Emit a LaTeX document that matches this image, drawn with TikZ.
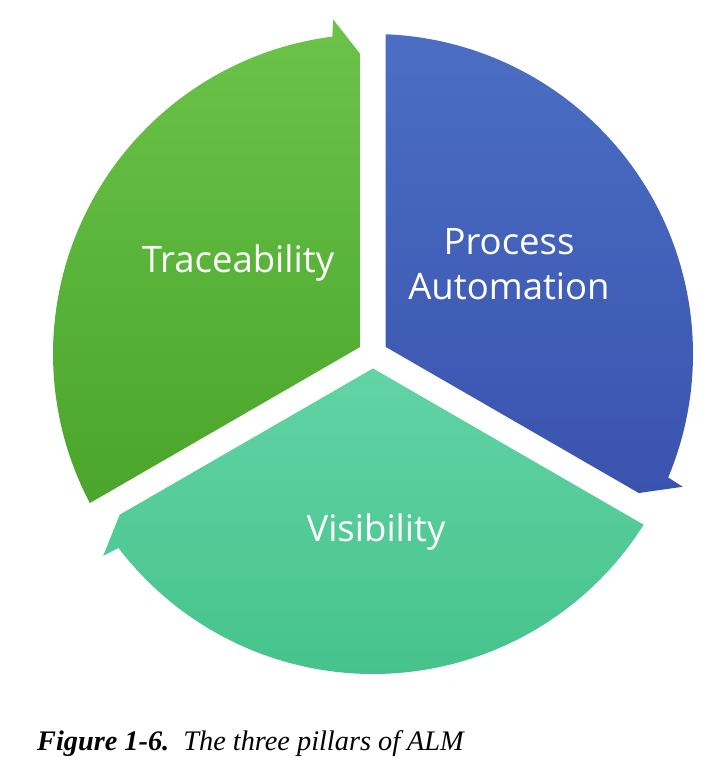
\documentclass[tikz,border=0pt]{standalone}
\usepackage{fontspec}
\setmainfont{Liberation Serif}
\newfontfamily\labelfont{Open Sans}
\definecolor{gtop}{HTML}{6CC34A}
\definecolor{gbot}{HTML}{4AA52A}
\definecolor{btop}{HTML}{4B6EC4}
\definecolor{bbot}{HTML}{3A53AE}
\definecolor{ttop}{HTML}{62D3A6}
\definecolor{tbot}{HTML}{45C38B}
\tikzset{
  seglabel/.style={text=white, font=\labelfont\fontsize{36.5}{45}\selectfont, align=center, inner sep=0pt},
  caption/.style={font=\fontsize{28.3}{32}\selectfont\itshape, anchor=base west, inner sep=0pt}
}
\newcommand{\segpath}[2]{% #1 start gap angle, #2 end gap angle
  (#1-60:14.43pt) -- (#1-2.24:320pt)
  arc[start angle=#1-2.24, end angle=#2+7.3, radius=320pt]
  -- (#2+6.8:337pt) -- (#2+2.39:300pt) -- cycle}
\begin{document}
\begin{tikzpicture}
\useasboundingbox (0,0) rectangle (728pt,-763pt);
\begin{scope}[shift={(373pt,-354pt)}]
  \shade[top color=gtop, bottom color=gbot] \segpath{210}{90};
  \shade[top color=btop, bottom color=bbot] \segpath{90}{-30};
  \shade[top color=ttop, bottom color=tbot] \segpath{-30}{-150};
\end{scope}
\node[seglabel] (trace) at (238pt,-263pt) {Traceability};
\node[seglabel] (proc) at (509pt,-264pt) {Process\\Automation};
\node[seglabel] (vis) at (376pt,-532pt) {Visibility};
\node[caption] (cap) at (37pt,-750pt) {\textbf{Figure 1-6.}\ \ The three pillars of ALM};
\end{tikzpicture}
\end{document}
